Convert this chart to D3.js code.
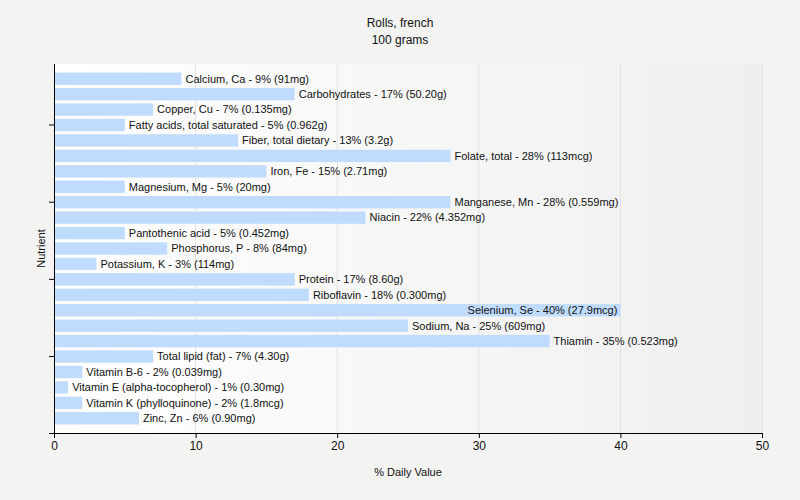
<!DOCTYPE html>
<html>
<head>
<meta charset="utf-8">
<script src="https://cdn.jsdelivr.net/npm/d3@7"></script>
<style>
  body { margin: 0; background: #f3f3f2; }
  text { font-family: "Liberation Sans", Arial, sans-serif; fill: #111; }
</style>
</head>
<body>
<div id="chart"></div>
<script>
const nutrients = [
  'Calcium, Ca', 'Carbohydrates', 'Copper, Cu', 'Fatty acids, total saturated',
  'Fiber, total dietary', 'Folate, total', 'Iron, Fe', 'Magnesium, Mg',
  'Manganese, Mn', 'Niacin', 'Pantothenic acid', 'Phosphorus, P', 'Potassium, K',
  'Protein', 'Riboflavin', 'Selenium, Se', 'Sodium, Na', 'Thiamin',
  'Total lipid (fat)', 'Vitamin B-6', 'Vitamin E (alpha-tocopherol)',
  'Vitamin K (phylloquinone)', 'Zinc, Zn'
];
const dailyValue = [9, 17, 7, 5, 13, 28, 15, 5, 28, 22, 5, 8, 3, 17, 18, 40, 25, 35, 7, 2, 1, 2, 6];
const amounts = ['91mg', '50.20g', '0.135mg', '0.962g', '3.2g', '113mcg', '2.71mg', '20mg',
  '0.559mg', '4.352mg', '0.452mg', '84mg', '114mg', '8.60g', '0.300mg', '27.9mcg',
  '609mg', '0.523mg', '4.30g', '0.039mg', '0.30mg', '1.8mcg', '0.90mg'];
const xTicks = [0, 10, 20, 30, 40, 50];

const width = 800, height = 500;
const margin = { top: 64, right: 38, bottom: 67, left: 54 };
const plotW = width - margin.left - margin.right;
const plotH = height - margin.top - margin.bottom;

const svg = d3.select('#chart').append('svg')
  .attr('width', width)
  .attr('height', height);

const grad = svg.append('defs').append('linearGradient')
  .attr('id', 'bg').attr('x1', '0%').attr('x2', '100%');
grad.append('stop').attr('offset', '0%').attr('stop-color', '#ffffff');
grad.append('stop').attr('offset', '100%').attr('stop-color', '#efefef');

svg.append('text')
  .attr('x', width / 2).attr('y', 27)
  .attr('text-anchor', 'middle').style('font-size', '12px')
  .text('Rolls, french');
svg.append('text')
  .attr('x', width / 2).attr('y', 44)
  .attr('text-anchor', 'middle').style('font-size', '12px')
  .text('100 grams');

const g = svg.append('g')
  .attr('transform', `translate(${margin.left},${margin.top})`);

g.append('rect')
  .attr('width', plotW).attr('height', plotH)
  .attr('fill', 'url(#bg)');

const x = d3.scaleLinear().domain([0, 50]).range([0, plotW]);
const y = d3.scaleBand().domain(nutrients).range([7, plotH - 7]).paddingInner(0.2).paddingOuter(0.1);

g.selectAll('.grid')
  .data(xTicks.slice(1))
  .enter().append('line')
    .attr('class', 'grid')
    .attr('x1', d => x(d)).attr('x2', d => x(d))
    .attr('y1', 0).attr('y2', plotH)
    .style('stroke', '#e2e2e2')
    .style('stroke-width', 1);

g.selectAll('.bar')
  .data(nutrients)
  .enter().append('rect')
    .attr('class', 'bar')
    .attr('x', 0)
    .attr('y', d => y(d))
    .attr('width', (d, i) => x(dailyValue[i]))
    .attr('height', y.bandwidth())
    .style('fill', '#bfdbfd');

g.selectAll('.label')
  .data(nutrients)
  .enter().append('text')
    .attr('class', 'label')
    .attr('y', d => y(d) + y.bandwidth() / 2)
    .attr('dy', '0.35em')
    .style('font-size', '11px')
    .text((d, i) => `${d} - ${dailyValue[i]}% (${amounts[i]})`)
    .each(function(d, i) {
      const w = this.getComputedTextLength();
      const end = x(dailyValue[i]);
      if (end + 4 + w > plotW) {
        d3.select(this).attr('x', end - 3).attr('text-anchor', 'end');
      } else {
        d3.select(this).attr('x', end + 4).attr('text-anchor', 'start');
      }
    });

const xAxis = g.append('g')
  .attr('transform', `translate(0,${plotH})`)
  .call(d3.axisBottom(x).tickValues(xTicks).tickSize(5).tickPadding(3));
xAxis.select('.domain').attr('d', `M-5,0.5H${plotW + 0.5}`);
xAxis.selectAll('text').style('font-size', '12px').style('fill', '#111');

const yAxis = g.append('g')
  .call(d3.axisLeft(y).tickValues([3, 8, 13, 18].map(i => nutrients[i])).tickSize(5).tickFormat(''));
yAxis.select('.domain').attr('d', `M0.5,0V${plotH}`);

svg.append('text')
  .attr('x', margin.left + plotW / 2).attr('y', 476)
  .attr('text-anchor', 'middle').style('font-size', '11px')
  .text('% Daily Value');

svg.append('text')
  .attr('transform', `translate(45,${margin.top + plotH / 2}) rotate(-90)`)
  .attr('text-anchor', 'middle').style('font-size', '11px')
  .text('Nutrient');
</script>
</body>
</html>
